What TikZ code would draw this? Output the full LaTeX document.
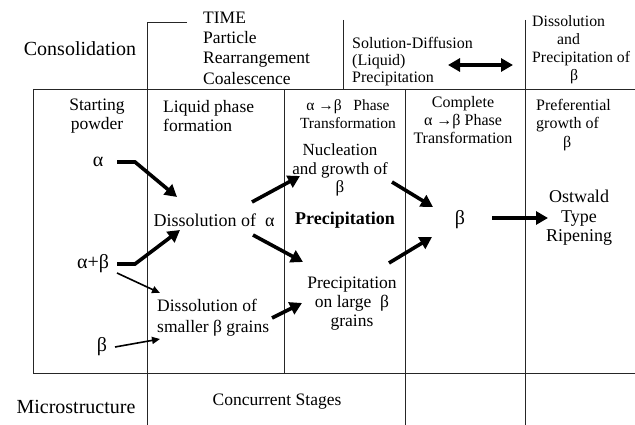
\documentclass[tikz,border=0pt]{standalone}
\usepackage{fontspec}
\setmainfont{Liberation Serif}
\usetikzlibrary{arrows.meta}
\tikzset{
  grid/.style={line width=0.8pt, draw=black!85},
  txt/.style={inner sep=0pt, font=\fontsize{17.5}{19.5}\selectfont},
  small/.style={inner sep=0pt, font=\fontsize{15.5}{18}\selectfont},
  big/.style={inner sep=0pt, font=\fontsize{20}{22}\selectfont},
  thick arrow/.style={line width=3.6pt, -{Triangle[length=12pt,width=13pt]}},
  thin arrow/.style={line width=1.6pt, -{Triangle[length=8pt,width=7pt]}},
}
\begin{document}
\begin{tikzpicture}[x=1pt,y=-1pt]
\useasboundingbox (0,0) rectangle (635,425);
% frame lines
\draw[grid] (187,22) -- (147,22) -- (147,425);
\draw[grid] (33,89) -- (635,89);
\draw[grid] (33,89) -- (33,373) -- (635,373);
\draw[grid] (284,89) -- (284,373);
\draw[grid] (343,20) -- (343,89);
\draw[grid] (405,89) -- (405,425);
\draw[grid] (525,20) -- (525,425);
% top texts
\node[big] (consol) at (80,49) {Consolidation};
\node[txt, align=left, anchor=west, font=\fontsize{17.5}{20.3}\selectfont] (time) at (203,48) {TIME\\Particle\\Rearrangement\\Coalescence};
\node[txt, align=left, anchor=west, font=\fontsize{16}{17}\selectfont] (soldiff) at (352,62) {Solution-Diffusion\\(Liquid)\\Precipitation};
\node[small, align=left, anchor=west, font=\fontsize{15.8}{18}\selectfont] (disspre) at (532,50) {Dissolution\\\hspace*{25pt}and\\Precipitation of\\\hspace*{38pt}β};
\coordinate (dl) at (448,65);
\coordinate (dr) at (513,65);
\draw[line width=3.6pt, {Triangle[length=12pt,width=13pt]}-{Triangle[length=12pt,width=13pt]}] (dl) -- (dr);
% header row
\node[txt, align=center] (start) at (97,116) {Starting\\powder};
\node[txt, align=left, anchor=west] (liquid) at (163,116) {Liquid phase\\formation};
\node[small, align=center] (phase) at (348,114) {α →β \ \ Phase\\Transformation};
\node[small, align=center, font=\fontsize{16}{18}\selectfont] (complete) at (463,120) {Complete\\α →β Phase\\Transformation};
\node[small, align=left, anchor=west, font=\fontsize{16}{18.5}\selectfont] (prefer) at (536,125) {Preferential\\growth of\\\hspace*{27pt}β};
% body
\node[big] (alpha) at (98,162) {α};
\node[txt, font=\fontsize{18}{20}\selectfont] (dissa) at (214,220) {Dissolution of \ α};
\node[big] (ab) at (93,264) {α+β};
\node[txt, align=left, anchor=west, font=\fontsize{17.5}{21}\selectfont] (disssm) at (157,318) {Dissolution of\\smaller β grains};
\node[big] (beta0) at (102,347) {β};
\node[txt, align=center, font=\fontsize{17}{18.5}\selectfont] (nucl) at (340,170) {Nucleation\\and growth of\\β};
\node[txt, font=\bfseries\fontsize{18}{20}\selectfont] (precb) at (345,220) {Precipitation};
\node[txt, align=center, font=\fontsize{17.5}{19}\selectfont] (preclg) at (352,304) {Precipitation\\on large \ β\\grains};
\node[big] (beta) at (460,220) {β};
\node[txt, align=center, font=\fontsize{18}{19.5}\selectfont] (ostwald) at (579,218) {Ostwald\\Type\\Ripening};
\node[big] (micro) at (76,407) {Microstructure};
\node[txt] (concur) at (277,402) {Concurrent Stages};
% connector end points
\coordinate (a1s) at (117,162); \coordinate (a1k) at (135,162); \coordinate (a1e) at (177,197);
\coordinate (a2s) at (117,264); \coordinate (a2k) at (135,264); \coordinate (a2e) at (180,230);
\coordinate (a3s) at (117,273); \coordinate (a3e) at (160,293);
\coordinate (a4s) at (115,347); \coordinate (a4e) at (160,339);
\coordinate (a5s) at (252,202); \coordinate (a5e) at (300,176);
\coordinate (a6s) at (253,235); \coordinate (a6e) at (303,262);
\coordinate (a7s) at (272,318); \coordinate (a7e) at (302,303);
\coordinate (a8s) at (392,182); \coordinate (a8e) at (433,207);
\coordinate (a9s) at (389,263); \coordinate (a9e) at (432,237);
\coordinate (a10s) at (492,218); \coordinate (a10e) at (548,218);
% arrows
\draw[thick arrow] (a1s) -- (a1k) -- (a1e);
\draw[thick arrow] (a2s) -- (a2k) -- (a2e);
\draw[thin arrow] (a3s) -- (a3e);
\draw[thin arrow] (a4s) -- (a4e);
\draw[thick arrow] (a5s) -- (a5e);
\draw[thick arrow] (a6s) -- (a6e);
\draw[thick arrow] (a7s) -- (a7e);
\draw[thick arrow] (a8s) -- (a8e);
\draw[thick arrow] (a9s) -- (a9e);
\draw[thick arrow] (a10s) -- (a10e);
\end{tikzpicture}
\end{document}
